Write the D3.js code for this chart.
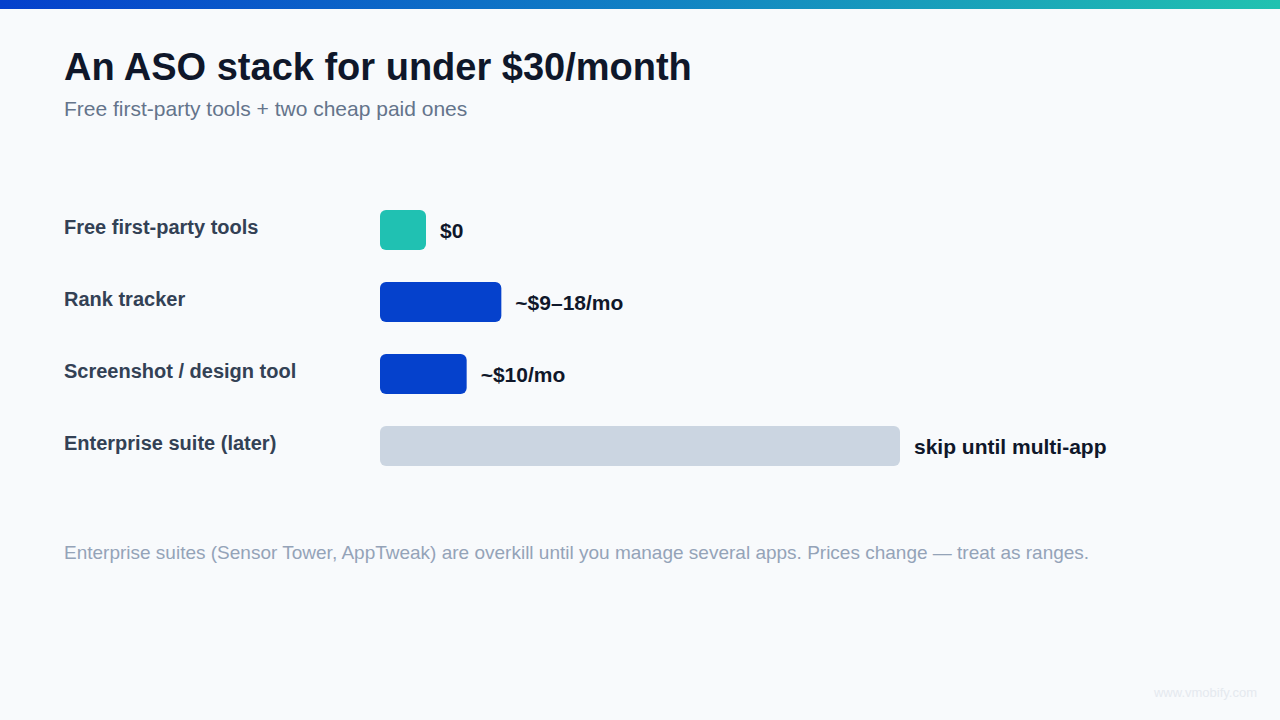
<!DOCTYPE html>
<html>
<head>
<meta charset="utf-8">
<script src="https://cdn.jsdelivr.net/npm/d3@7"></script>
<style>
  html, body { margin: 0; padding: 0; background: #f8fafc; }
  svg { display: block; font-family: "Liberation Sans", Arial, sans-serif; }
</style>
</head>
<body>
<div class="chart"></div>
<script>
// data
const tools = ['Free first-party tools', 'Rank tracker', 'Screenshot / design tool', 'Enterprise suite (later)'];
const costs = [0, 14, 10, 60];           // rough $/mo used for bar length
const priceLabels = ['$0', '~$9–18/mo', '~$10/mo', 'skip until multi-app'];
const kinds = ['free', 'paid', 'paid', 'skip'];

const W = 1280, H = 720;

const svg = d3.select('.chart').append('svg')
  .attr('width', W)
  .attr('height', H);

svg.append('rect').attr('width', W).attr('height', H).attr('fill', '#f8fafc');

// top gradient strip
const grad = svg.append('defs').append('linearGradient').attr('id', 'topbar');
grad.append('stop').attr('offset', '0%').attr('stop-color', '#0540cc');
grad.append('stop').attr('offset', '50%').attr('stop-color', '#1180c4');
grad.append('stop').attr('offset', '100%').attr('stop-color', '#21c2b0');
svg.append('rect').attr('width', W).attr('height', 9).attr('fill', 'url(#topbar)');

svg.append('text')
  .attr('x', 64).attr('y', 80)
  .attr('font-size', 38).attr('font-weight', 700)
  .attr('fill', '#0f172a')
  .text('An ASO stack for under $30/month');

svg.append('text')
  .attr('x', 64).attr('y', 116)
  .attr('font-size', 21)
  .attr('fill', '#64748b')
  .text('Free first-party tools + two cheap paid ones');

// scales: 4 rows, 40px bars on a 72px pitch
const x = d3.scaleLinear().domain([0, 60]).range([0, 520]);
const y = d3.scaleBand().domain(tools).range([210, 466]).paddingInner(0.4444).paddingOuter(0);
const color = d3.scaleOrdinal().domain(['free', 'paid', 'skip']).range(['#20c1b2', '#0541cc', '#cbd5e1']);
const minW = 46;
const x0 = 380;

const rows = svg.selectAll('.row')
  .data(tools)
  .enter().append('g')
    .attr('class', 'row')
    .attr('transform', d => `translate(0,${y(d)})`);

rows.append('text')
  .attr('x', 64).attr('y', 24)
  .attr('font-size', 20).attr('font-weight', 700)
  .attr('fill', '#334155')
  .text(d => d);

rows.append('rect')
  .attr('x', x0).attr('y', 0)
  .attr('width', (d, i) => Math.max(minW, x(costs[i])))
  .attr('height', y.bandwidth())
  .attr('rx', 6).attr('ry', 6)
  .attr('fill', (d, i) => color(kinds[i]));

rows.append('text')
  .attr('x', (d, i) => x0 + Math.max(minW, x(costs[i])) + 14)
  .attr('y', 28)
  .attr('font-size', 21).attr('font-weight', 700)
  .attr('fill', '#0f172a')
  .text((d, i) => priceLabels[i]);

svg.append('text')
  .attr('x', 64).attr('y', 559)
  .attr('font-size', 19)
  .attr('fill', '#94a3b8')
  .text('Enterprise suites (Sensor Tower, AppTweak) are overkill until you manage several apps. Prices change — treat as ranges.');

// faint watermark
svg.append('text')
  .attr('x', 1257).attr('y', 697)
  .attr('text-anchor', 'end')
  .attr('font-size', 13)
  .attr('fill', '#e5e9ef')
  .text('www.vmobify.com');
</script>
</body>
</html>
